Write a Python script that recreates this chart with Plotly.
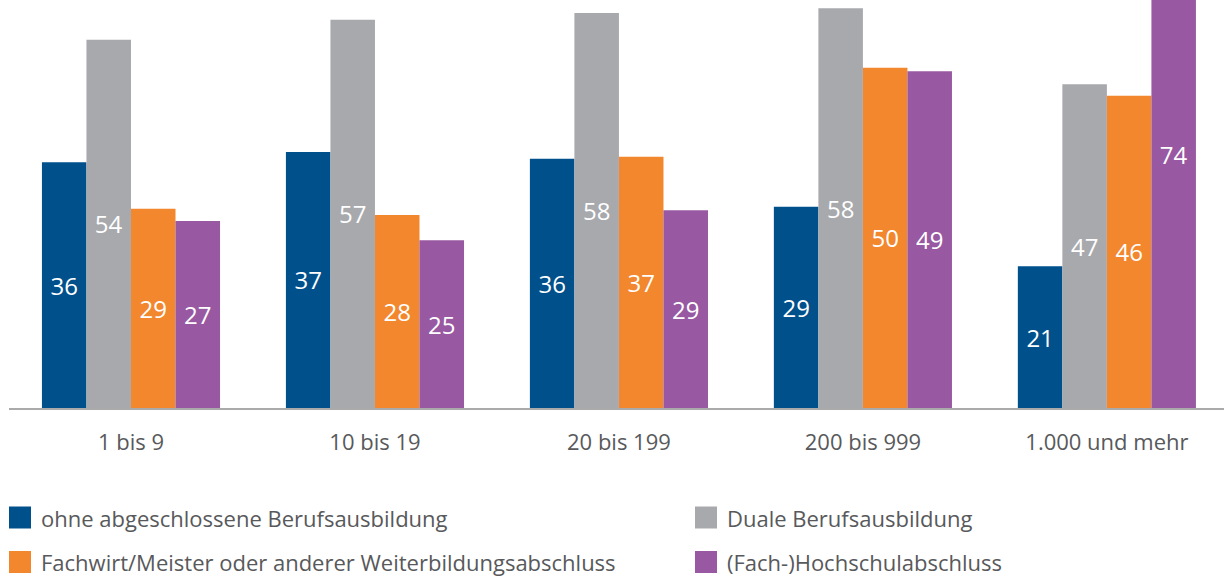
import plotly.graph_objects as go

# Betriebsgroesse (Beschaeftigte)
categories = ["1 bis 9", "10 bis 19", "20 bis 199", "200 bis 999", "1.000 und mehr"]

series_names = [
    "ohne abgeschlossene Berufsausbildung",
    "Duale Berufsausbildung",
    "Fachwirt/Meister oder anderer Weiterbildungsabschluss",
    "(Fach-)Hochschulabschluss",
]

ohne_abschluss = [35.9, 37.4, 36.4, 29.4, 20.7]
duale_ausbildung = [53.8, 56.7, 57.7, 58.4, 47.3]
fachwirt_meister = [29.1, 28.2, 36.7, 49.7, 45.6]
hochschule = [27.3, 24.5, 28.9, 49.2, 74.0]

colors = ["#00508C", "#A8A9AD", "#F2872E", "#9858A2"]
text_grey = "#58595B"
FONT = "Open Sans"

W, H = 1224, 576
M_L, M_R, M_T, M_B = 9, 0, 0, 168
plot_w = W - M_L - M_R
plot_h = H - M_T - M_B


def px_x(x):
    return (x - M_L) / plot_w


def px_y(y):
    return (M_T + plot_h - y) / plot_h


fig = go.Figure()
for name, vals, col in zip(series_names,
                           [ohne_abschluss, duale_ausbildung, fachwirt_meister, hochschule],
                           colors):
    fig.add_trace(go.Bar(
        x=categories, y=vals, name=name,
        marker=dict(color=col, line_width=0),
        texttemplate="%{y:.0f}", textposition="inside",
        insidetextanchor="middle", textangle=0,
        textfont=dict(family=FONT, size=24, color="white"),
        showlegend=False, hoverinfo="skip",
    ))

# legend drawn by hand (2 columns, big square keys)
legend_pos = [(9, 517.5), (695, 517.5), (9, 562), (695, 562)]
for (lx, ly), name, col in zip(legend_pos, series_names, colors):
    fig.add_shape(type="rect", xref="paper", yref="paper",
                  x0=px_x(lx), x1=px_x(lx + 22), y0=px_y(ly + 11), y1=px_y(ly - 11),
                  fillcolor=col, line_width=0)
    fig.add_annotation(xref="paper", yref="paper", x=px_x(lx + 30), y=px_y(ly),
                       text=name, showarrow=False, xanchor="left", yanchor="middle",
                       font=dict(family=FONT, size=22, color=text_grey))

fig.update_layout(
    width=W, height=H,
    margin=dict(l=M_L, r=M_R, t=M_T, b=M_B),
    barmode="group", bargap=0.27, bargroupgap=0,
    plot_bgcolor="white", paper_bgcolor="white",
    uniformtext=dict(mode="show", minsize=10),
)
fig.update_xaxes(range=[-0.5, 4.48], showline=True, linecolor="#AAAAAA", linewidth=1.5,
                 ticks="outside", ticklen=14, tickcolor="rgba(0,0,0,0)",
                 tickfont=dict(family=FONT, size=22, color=text_grey),
                 showgrid=False)
fig.update_yaxes(range=[0, 59.6], visible=False, showgrid=False)

# page body has a default 8px margin; remove it so the figure sits at (0, 0)
fig.write_html("out.html", config={"displayModeBar": False},
               post_script="document.body.style.margin='0';document.body.style.overflow='hidden';")
